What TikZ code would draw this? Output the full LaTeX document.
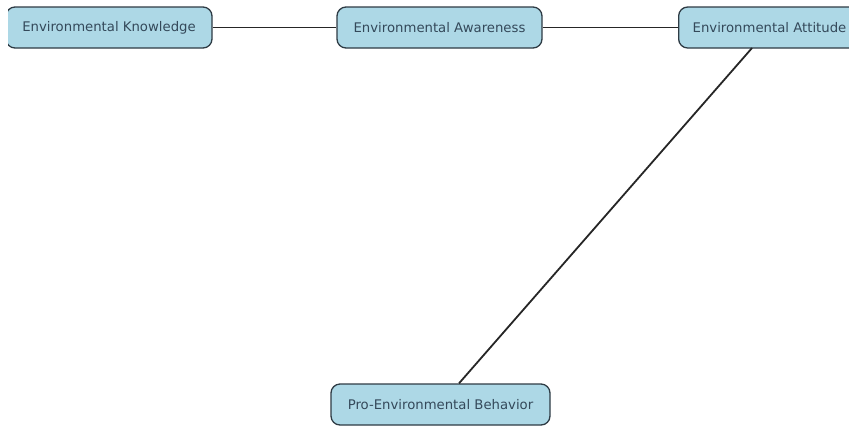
\documentclass[tikz,border=0pt]{standalone}
\usepackage{fontspec}
\setmainfont{DejaVu Sans}
\definecolor{boxfill}{HTML}{ADD8E6}
\definecolor{boxtext}{HTML}{34495A}
\definecolor{boxline}{HTML}{2E3B44}
\begin{document}
\begin{tikzpicture}[x=1bp,y=-1bp,
  concept/.style={draw=boxline, line width=1.3bp, fill=boxfill, rounded corners=9bp,
    minimum height=41bp, inner sep=0pt, text=boxtext,
    font=\fontsize{13.3}{15}\selectfont},
  link/.style={draw=black!85, line width=1.8bp}]
\useasboundingbox (0,0) rectangle (849,425);
\clip (0,0) rectangle (849,425);
\begin{scope}
\clip (8,0) rectangle (849,425);
\node[concept, minimum width=206bp] (know) at (109,27.5) {Environmental Knowledge};
\end{scope}
\node[concept, minimum width=205bp] (aware) at (439.5,27.5) {Environmental Awareness};
\node[concept, anchor=west, inner xsep=14bp] (att) at (678,27.5) {Environmental Attitude};
\node[concept, minimum width=219bp] (beh) at (440.5,404.5) {Pro-Environmental Behavior};
\draw[link] (know) -- (aware);
\draw[link] (aware) -- (att);
\draw[link] (752,48) coordinate (attb) -- (beh.north -| 459,0);
\end{tikzpicture}
\end{document}
